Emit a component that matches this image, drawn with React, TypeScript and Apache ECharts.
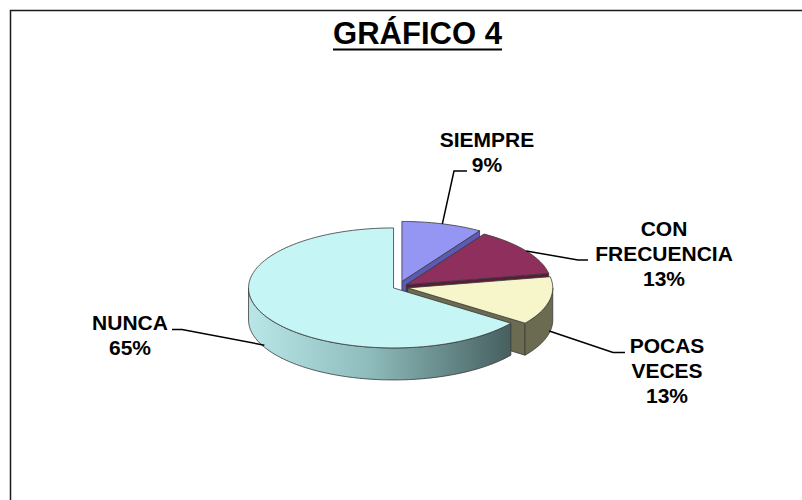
import React, { useEffect, useRef } from 'react';
import * as echarts from 'echarts';

// ---- data ----
const categories = ['SIEMPRE', 'CON FRECUENCIA', 'POCAS VECES', 'NUNCA'];
const percentValues = [9, 13, 13, 65];
const titleText = 'GRÁFICO 4';

// ---- styles / layout ----
const topColors = ['#9595F4', '#8E2F5D', '#F6F6CA', '#C5F5F5'];
const wallColors = ['#5B5BB5', '#5A1C3B', '#6B6B52', '#7FAFAF'];
const explodeDist = [14, 10, 10, 5];
// [elbowX, elbowY, endX, endY, labelX, labelY]
const labelLayout = [
  [454, 171, 467, 171, 487, 152],
  [578, 260, 588, 260, 664, 253],
  [613, 352.5, 625, 352.5, 667, 370],
  [182, 329.5, 172, 329.5, 130, 334.5],
];
const CX = 398;
const CY = 287;
const RX = 145;
const RY = 60;
const DEPTH = 32;
const FONT = "'Liberation Sans', Arial, Helvetica, sans-serif";

const total = percentValues.reduce((a, b) => a + b, 0);

export default function App() {
  const ref = useRef<HTMLDivElement>(null);

  useEffect(() => {
    if (!ref.current) return;
    const chart = echarts.init(ref.current, undefined, { renderer: 'svg' });
    const rad = (d: number) => (d * Math.PI) / 180;

    const option: any = {
      animation: false,
      backgroundColor: '#ffffff',
      graphic: [
        {
          type: 'rect',
          silent: true,
          shape: { x: 10.5, y: 10.5, width: 900, height: 600 },
          style: { fill: 'transparent', stroke: '#1a1a1a', lineWidth: 1.5 },
        },
        {
          type: 'text',
          x: 417.5,
          y: 33,
          style: {
            text: titleText,
            align: 'center',
            verticalAlign: 'middle',
            fontSize: 31,
            fontWeight: 'bold',
            fontFamily: FONT,
            fill: '#000',
          },
        },
        {
          type: 'line',
          shape: { x1: 333, y1: 49.5, x2: 502, y2: 49.5 },
          style: { stroke: '#000', lineWidth: 2.2 },
        },
      ],
      series: [
        {
          type: 'custom',
          coordinateSystem: 'none',
          data: categories.map((name, i) => ({ name, value: percentValues[i] })),
          renderItem: (params: any, api: any) => {
            const i = params.dataIndex;
            const v = api.value(0);
            let before = 0;
            for (let j = 0; j < i; j++) before += percentValues[j];
            const a0 = -90 + (before / total) * 360;
            const a1 = a0 + (v / total) * 360;
            const mid = (a0 + a1) / 2;
            const e = explodeDist[i];
            const cx = CX + e * Math.cos(rad(mid));
            const cy = CY + e * Math.sin(rad(mid)) * (RY / RX);
            const rim = (deg: number, dy = 0) => [
              cx + RX * Math.cos(rad(deg)),
              cy + RY * Math.sin(rad(deg)) + dy,
            ];
            const arc = (d0: number, d1: number, dy: number) => {
              const n = Math.max(2, Math.ceil(Math.abs(d1 - d0) / 1.5));
              const pts: number[][] = [];
              for (let k = 0; k <= n; k++) pts.push(rim(d0 + ((d1 - d0) * k) / n, dy));
              return pts;
            };
            const stroke = '#383838';
            const lw = 0.8;
            const base = i * 10;
            const children: any[] = [];
            const wallFill =
              i === 3
                ? new echarts.graphic.LinearGradient(0, 0, 1, 0, [
                    { offset: 0, color: '#b9e6e6' },
                    { offset: 0.45, color: '#8fbdbd' },
                    { offset: 1, color: '#465f5f' },
                  ])
                : wallColors[i];

            if (Math.cos(rad(a0)) < -1e-6) {
              children.push({
                type: 'polygon',
                z2: base,
                shape: { points: [[cx, cy], rim(a0), rim(a0, DEPTH), [cx, cy + DEPTH]] },
                style: { fill: wallColors[i], stroke, lineWidth: lw },
              });
            }
            if (Math.cos(rad(a1)) > 1e-6) {
              children.push({
                type: 'polygon',
                z2: base,
                shape: { points: [[cx, cy], rim(a1), rim(a1, DEPTH), [cx, cy + DEPTH]] },
                style: { fill: wallColors[i], stroke, lineWidth: lw },
              });
            }
            const f0 = Math.max(a0, 0);
            const f1 = Math.min(a1, 180);
            if (f1 > f0) {
              children.push({
                type: 'polygon',
                z2: base + 1,
                shape: { points: arc(f0, f1, 0).concat(arc(f0, f1, DEPTH).reverse()) },
                style: { fill: wallFill, stroke, lineWidth: lw },
              });
            }
            children.push({
              type: 'polygon',
              z2: base + 2,
              shape: { points: [[cx, cy]].concat(arc(a0, a1, 0)) },
              style: { fill: topColors[i], stroke, lineWidth: lw },
            });

            const front = Math.sin(rad(mid)) > 0;
            const anchor = rim(mid, front ? DEPTH - 2 : 0);
            const L = labelLayout[i];
            children.push({
              type: 'polyline',
              z2: 100,
              shape: { points: [anchor, [L[0], L[1]], [L[2], L[3]]] },
              style: { stroke: '#000', lineWidth: 1.5, fill: null },
            });
            const pct = Math.round((v / total) * 100);
            children.push({
              type: 'text',
              z2: 101,
              style: {
                text: `${categories[i].replace(/ /g, '\n')}\n${pct}%`,
                x: L[4],
                y: L[5],
                align: 'center',
                verticalAlign: 'middle',
                fontSize: 21,
                fontWeight: 'bold',
                fontFamily: FONT,
                lineHeight: 25,
                fill: '#000',
              },
            });
            return { type: 'group', children };
          },
        },
      ],
    };
    chart.setOption(option);
    return () => chart.dispose();
  }, []);

  return (
    <div
      ref={ref}
      style={{ position: 'fixed', left: 0, top: 0, width: 802, height: 500, background: '#fff' }}
    />
  );
}
